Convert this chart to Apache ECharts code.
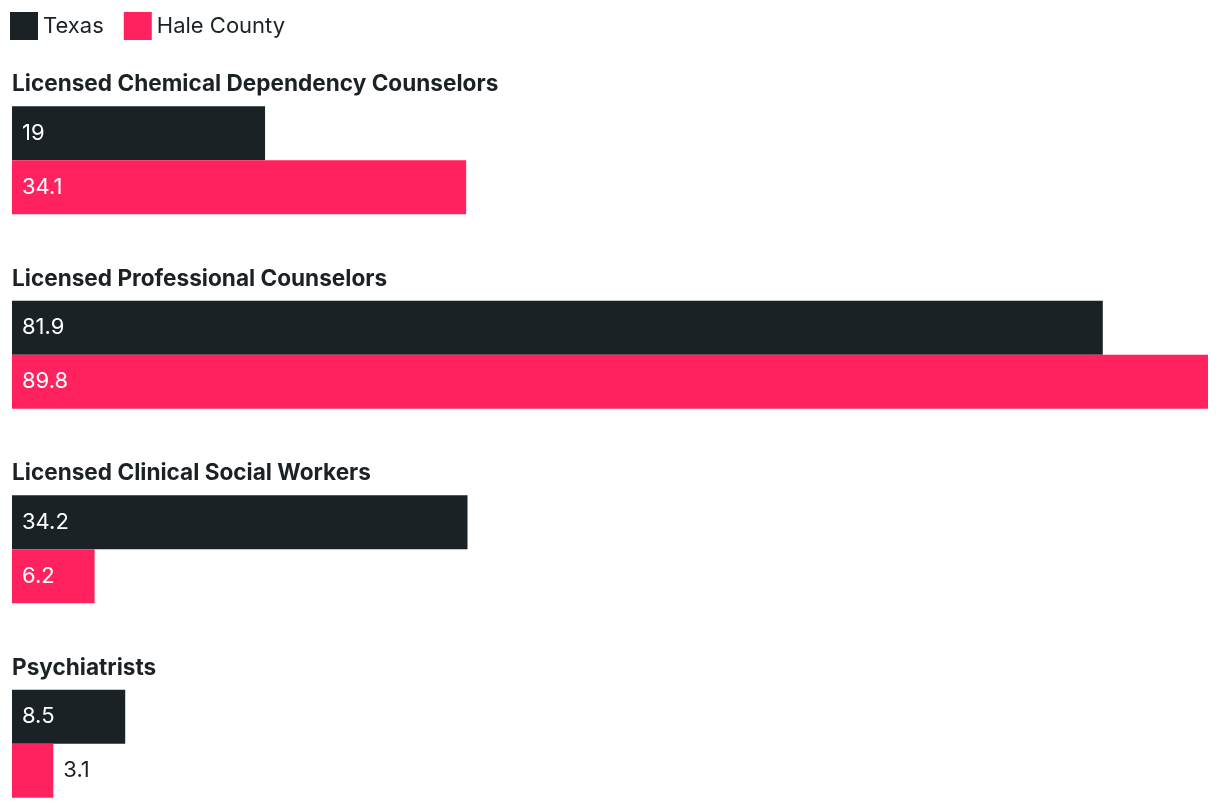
<!DOCTYPE html>
<html>
<head>
<meta charset="utf-8">
<script src="https://cdn.jsdelivr.net/npm/echarts@6/dist/echarts.min.js"></script>
<style>
html,body{margin:0;padding:0;background:#fff;}
#chart{width:1220px;height:808px;}
</style>
</head>
<body>
<div id="chart"></div>
<script>
const categories = [
  "Licensed Chemical Dependency Counselors",
  "Licensed Professional Counselors",
  "Licensed Clinical Social Workers",
  "Psychiatrists"
];
const texasValues = [19, 81.9, 34.2, 8.5];
const haleValues = [34.1, 89.8, 6.2, 3.1];
const seriesNames = ["Texas", "Hale County"];

const DARK = "#1b2226";
const PINK = "#ff225e";
const FONT = "Inter";

function buildData(values) {
  return values.map(v => {
    if (v < 5) {
      return { value: v, label: { position: "right", color: DARK, distance: 10 } };
    }
    return { value: v };
  });
}

const chart = echarts.init(document.getElementById("chart"), null, { renderer: "canvas" });
const labelCfg = {
  show: true,
  position: "insideLeft",
  distance: 10,
  color: "#ffffff",
  fontFamily: FONT,
  fontSize: 22,
  fontWeight: 400
};
chart.setOption({
  animation: false,
  textStyle: { fontFamily: FONT },
  legend: {
    left: 10,
    top: 12,
    padding: 0,
    itemWidth: 28,
    itemHeight: 28,
    itemGap: 20,
    icon: "rect",
    textStyle: { fontFamily: FONT, fontSize: 22, color: DARK },
    data: seriesNames
  },
  grid: { left: 12, top: 63, height: 778, width: 1196, containLabel: false, outerBoundsMode: "none" },
  xAxis: {
    type: "value",
    min: 0,
    max: 89.8,
    show: false
  },
  yAxis: {
    type: "category",
    inverse: true,
    data: categories,
    axisLine: { show: false },
    axisTick: { show: false },
    splitLine: { show: false },
    axisLabel: {
      inside: true,
      margin: 0,
      align: "left",
      verticalAlign: "middle",
      formatter: function (v) { return "{t|" + v + "}\n{s|}"; },
      rich: {
        t: { color: DARK, fontFamily: FONT, fontSize: 22.6, fontWeight: 700, lineHeight: 26, align: "left" },
        s: { height: 152, lineHeight: 152 }
      }
    },
    z: 5
  },
  series: [
    {
      name: seriesNames[0],
      type: "bar",
      data: buildData(texasValues),
      barWidth: 54,
      barGap: "0%",
      itemStyle: { color: DARK },
      label: labelCfg
    },
    {
      name: seriesNames[1],
      type: "bar",
      data: buildData(haleValues),
      barWidth: 54,
      barGap: "0%",
      itemStyle: { color: PINK },
      label: labelCfg
    }
  ]
});
</script>
</body>
</html>
